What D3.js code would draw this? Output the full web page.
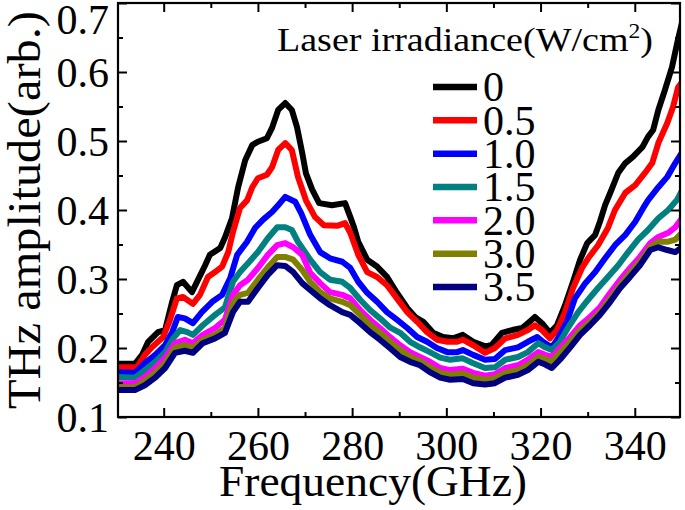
<!DOCTYPE html>
<html>
<head>
<meta charset="utf-8">
<script src="https://cdn.jsdelivr.net/npm/d3@7"></script>
<style>
  html, body { margin: 0; padding: 0; background: #fff; }
  svg { display: block; }
</style>
</head>
<body>
<svg id="chart" width="685" height="510" font-family="'Liberation Serif', 'Times New Roman', serif"></svg>
<script>
// ---- data (frequency GHz, amplitude arb.) ----
const irradiance = ["0", "0.5", "1.0", "1.5", "2.0", "3.0", "3.5"];
const colors = ["#000000", "#ff0000", "#0000ff", "#008080", "#ff00ff", "#808000", "#000080"];
const xTicks = [240, 260, 280, 300, 320, 340];
const xMinor = [250, 270, 290, 310, 330];
const yTicks = [0.1, 0.2, 0.3, 0.4, 0.5, 0.6, 0.7];
const yMinor = [0.15, 0.25, 0.35, 0.45, 0.55, 0.65];

const s0 = [[230.3,0.177],[233.9,0.177],[235.4,0.19],[236.7,0.209],[238.8,0.223],[240.3,0.226],[241.8,0.267],[242.8,0.291],[244.1,0.296],[246.0,0.281],[247.3,0.299],[248.8,0.32],[249.8,0.335],[252.0,0.345],[253.0,0.36],[254.5,0.388],[255.8,0.433],[257.3,0.472],[258.8,0.494],[260.0,0.499],[261.9,0.504],[263.0,0.519],[264.3,0.545],[265.8,0.555],[267.2,0.545],[268.3,0.52],[269.4,0.483],[270.2,0.453],[271.5,0.43],[273.0,0.41],[275.7,0.407],[278.5,0.41],[279.6,0.39],[280.4,0.375],[281.3,0.354],[283.2,0.328],[285.3,0.318],[287.4,0.303],[289.5,0.28],[291.7,0.258],[293.4,0.245],[295.1,0.238],[297.2,0.222],[299.3,0.216],[301.4,0.214],[303.5,0.219],[305.7,0.209],[308.4,0.202],[309.7,0.205],[311.8,0.222],[314.0,0.226],[316.1,0.229],[317.3,0.236],[318.8,0.245],[320.3,0.236],[322.0,0.222],[323.5,0.233],[325.2,0.262],[326.9,0.296],[328.4,0.328],[329.9,0.352],[331.6,0.364],[332.6,0.383],[333.7,0.407],[334.8,0.425],[336.5,0.454],[338.0,0.468],[339.6,0.477],[341.6,0.491],[342.8,0.506],[343.9,0.516],[345.0,0.545],[346.4,0.574],[347.9,0.607],[349.0,0.642],[350.0,0.671]];
const s05 = [[230.3,0.172],[234.3,0.172],[236.0,0.19],[237.5,0.201],[239.9,0.216],[241.3,0.24],[242.8,0.272],[244.1,0.274],[246.2,0.264],[247.7,0.277],[249.4,0.303],[250.9,0.31],[252.4,0.318],[253.7,0.339],[254.7,0.368],[256.2,0.403],[257.7,0.414],[258.8,0.433],[260.0,0.446],[261.9,0.451],[263.0,0.462],[264.3,0.487],[265.8,0.497],[267.2,0.487],[268.5,0.448],[270.2,0.414],[272.1,0.39],[274.0,0.378],[276.8,0.377],[278.5,0.381],[279.6,0.367],[281.3,0.335],[283.2,0.31],[285.3,0.303],[287.4,0.291],[289.5,0.272],[291.7,0.252],[293.8,0.238],[295.9,0.223],[298.0,0.212],[300.2,0.209],[302.3,0.209],[303.5,0.212],[305.7,0.204],[308.2,0.193],[310.3,0.2],[312.5,0.214],[315.2,0.219],[317.3,0.226],[318.8,0.233],[320.3,0.226],[322.0,0.214],[323.5,0.226],[325.2,0.252],[326.9,0.287],[328.8,0.316],[330.1,0.33],[332.2,0.349],[334.3,0.374],[335.8,0.4],[338.0,0.425],[340.1,0.436],[342.2,0.454],[343.7,0.468],[345.0,0.497],[346.9,0.526],[348.1,0.549],[349.2,0.578],[350.3,0.588]];
const s10 = [[230.3,0.165],[233.9,0.164],[236.0,0.178],[238.2,0.19],[240.3,0.204],[241.8,0.223],[243.0,0.245],[244.5,0.243],[246.2,0.236],[248.1,0.252],[250.3,0.267],[252.4,0.277],[254.1,0.301],[255.6,0.335],[257.7,0.354],[259.4,0.374],[261.1,0.386],[263.0,0.397],[264.3,0.407],[265.8,0.419],[267.9,0.412],[269.2,0.395],[271.1,0.364],[273.2,0.339],[275.3,0.33],[277.9,0.325],[279.6,0.316],[281.3,0.296],[283.2,0.28],[285.3,0.267],[287.4,0.252],[289.5,0.241],[291.7,0.229],[293.8,0.216],[295.9,0.209],[298.0,0.2],[300.2,0.194],[302.3,0.194],[303.5,0.197],[305.7,0.19],[308.2,0.183],[310.3,0.184],[312.5,0.197],[315.2,0.201],[317.3,0.209],[319.3,0.216],[320.5,0.209],[322.4,0.201],[323.7,0.214],[325.6,0.238],[327.3,0.272],[329.5,0.294],[331.6,0.31],[333.7,0.33],[335.8,0.349],[338.0,0.364],[340.1,0.383],[341.8,0.403],[342.8,0.414],[345.0,0.433],[346.9,0.448],[348.6,0.468],[350.0,0.483]];
const s15 = [[230.3,0.158],[233.9,0.157],[236.0,0.168],[238.2,0.18],[240.3,0.194],[242.0,0.214],[243.5,0.226],[245.0,0.223],[246.2,0.219],[248.3,0.233],[250.9,0.248],[253.0,0.259],[254.7,0.296],[256.2,0.31],[257.9,0.323],[260.0,0.339],[262.1,0.359],[264.1,0.375],[265.8,0.375],[267.2,0.371],[268.5,0.354],[271.1,0.328],[273.2,0.31],[275.3,0.299],[277.9,0.296],[279.6,0.287],[281.7,0.27],[283.8,0.255],[285.9,0.243],[288.0,0.23],[290.2,0.222],[292.3,0.209],[294.4,0.201],[296.5,0.194],[298.7,0.186],[300.8,0.183],[303.5,0.185],[305.7,0.178],[308.2,0.171],[310.3,0.172],[312.5,0.183],[315.2,0.187],[317.3,0.194],[319.5,0.207],[321.0,0.201],[322.4,0.197],[324.1,0.209],[325.8,0.229],[328.0,0.252],[330.1,0.27],[332.2,0.287],[334.3,0.303],[336.5,0.32],[338.6,0.339],[340.7,0.357],[342.8,0.371],[345.0,0.388],[347.1,0.4],[349.0,0.415],[350.0,0.428]];
const s20 = [[230.3,0.149],[233.9,0.149],[236.0,0.158],[238.2,0.171],[240.3,0.186],[242.4,0.207],[244.5,0.212],[246.2,0.207],[248.3,0.219],[250.9,0.229],[253.0,0.241],[254.7,0.277],[256.2,0.291],[257.9,0.299],[260.0,0.316],[262.1,0.335],[264.1,0.349],[265.8,0.352],[267.5,0.346],[269.4,0.335],[271.1,0.309],[273.2,0.294],[275.3,0.281],[277.9,0.277],[279.6,0.272],[281.7,0.255],[283.8,0.241],[285.9,0.229],[288.0,0.216],[290.2,0.204],[292.3,0.194],[294.4,0.187],[296.5,0.18],[298.7,0.171],[300.8,0.168],[303.5,0.17],[305.7,0.164],[308.2,0.16],[310.3,0.162],[312.5,0.171],[315.2,0.175],[317.3,0.183],[319.5,0.194],[321.0,0.19],[322.4,0.187],[324.1,0.2],[326.3,0.216],[328.4,0.233],[330.5,0.245],[332.6,0.259],[334.8,0.28],[336.9,0.299],[339.0,0.316],[341.1,0.332],[343.3,0.352],[345.0,0.361],[347.1,0.367],[348.6,0.375],[350.0,0.388]];
const s30 = [[230.3,0.143],[233.9,0.143],[236.0,0.152],[238.2,0.164],[240.3,0.178],[242.4,0.2],[244.5,0.204],[246.2,0.2],[248.3,0.212],[250.9,0.219],[253.0,0.229],[254.7,0.265],[256.2,0.277],[257.9,0.28],[260.0,0.299],[262.1,0.317],[264.1,0.332],[265.8,0.332],[267.5,0.328],[269.4,0.313],[271.1,0.296],[273.2,0.281],[275.3,0.272],[277.9,0.267],[279.6,0.262],[281.7,0.248],[283.8,0.233],[285.9,0.222],[288.0,0.209],[290.2,0.197],[292.3,0.187],[294.4,0.181],[296.5,0.172],[298.7,0.164],[300.8,0.161],[303.5,0.163],[305.7,0.157],[308.2,0.154],[310.3,0.156],[312.5,0.164],[315.2,0.168],[317.3,0.175],[319.5,0.187],[321.0,0.184],[322.4,0.18],[324.1,0.193],[326.3,0.209],[328.4,0.226],[330.5,0.238],[332.6,0.252],[334.8,0.272],[336.9,0.291],[339.0,0.309],[341.1,0.325],[343.3,0.346],[345.0,0.354],[347.1,0.354],[348.6,0.357],[350.0,0.367]];
const s35 = [[230.3,0.139],[233.9,0.139],[236.0,0.146],[238.2,0.157],[240.3,0.171],[242.4,0.193],[244.5,0.196],[246.2,0.193],[248.3,0.207],[250.9,0.214],[253.0,0.222],[254.7,0.252],[256.2,0.267],[257.9,0.267],[260.0,0.287],[262.1,0.306],[264.1,0.32],[265.8,0.319],[267.5,0.31],[269.4,0.294],[271.1,0.284],[273.2,0.272],[275.3,0.262],[277.9,0.252],[279.6,0.248],[281.7,0.236],[283.8,0.223],[285.9,0.212],[288.0,0.2],[290.2,0.187],[292.3,0.18],[294.4,0.175],[296.5,0.165],[298.7,0.157],[300.8,0.154],[303.5,0.155],[305.7,0.149],[308.2,0.147],[310.3,0.149],[312.5,0.157],[315.2,0.161],[317.3,0.168],[319.5,0.18],[321.0,0.176],[322.4,0.171],[324.1,0.183],[326.3,0.201],[328.4,0.219],[330.5,0.233],[332.6,0.248],[334.8,0.267],[336.9,0.287],[339.0,0.303],[341.1,0.32],[343.3,0.342],[345.0,0.346],[346.9,0.342],[348.6,0.339],[350.0,0.346]];
const seriesData = [s0, s05, s10, s15, s20, s30, s35];

// ---- layout ----
const FONT = "'Liberation Serif', 'Times New Roman', serif";
const svg = d3.select("#chart");
const L = 118, R = 680, T = 3, B = 417;
const x = d3.scaleLinear().domain([230.3, 349.6]).range([L, R]);
const y = d3.scaleLinear().domain([0.1, 0.7]).range([B, T]);

svg.append("defs").append("clipPath").attr("id", "plotclip")
  .append("rect").attr("x", L).attr("y", T).attr("width", R - L).attr("height", B - T);

// curves
const line = d3.line().x(d => x(d[0])).y(d => y(d[1]));
svg.append("g").attr("clip-path", "url(#plotclip)")
  .selectAll("path").data(seriesData).join("path")
  .attr("d", line)
  .attr("fill", "none")
  .attr("stroke", (d, i) => colors[i])
  .attr("stroke-width", 6)
  .attr("stroke-linejoin", "round")
  .attr("stroke-linecap", "round");

// axes
const fontTick = 42;
function styleAxis(g) {
  g.attr("font-family", FONT);
  g.select(".domain").remove();
  g.selectAll(".tick line").attr("stroke", "#000").attr("stroke-width", 2);
}
function tickOnly(g) {
  styleAxis(g);
  g.selectAll(".tick text").remove();
}
svg.append("g").attr("transform", `translate(0,${B})`)
  .call(d3.axisBottom(x).tickValues(xTicks).tickSize(-9).tickPadding(14).tickFormat(d3.format("d")))
  .call(styleAxis)
  .call(g => g.selectAll("text").attr("font-size", fontTick).attr("font-family", FONT).attr("dy", "0.7em"));
svg.append("g").attr("transform", `translate(0,${B})`)
  .call(d3.axisBottom(x).tickValues(xMinor).tickSize(-5)).call(tickOnly);
svg.append("g").attr("transform", `translate(0,${T})`)
  .call(d3.axisTop(x).tickValues(xTicks).tickSize(-9)).call(tickOnly);
svg.append("g").attr("transform", `translate(0,${T})`)
  .call(d3.axisTop(x).tickValues(xMinor).tickSize(-5)).call(tickOnly);

svg.append("g").attr("transform", `translate(${L},0)`)
  .call(d3.axisLeft(y).tickValues(yTicks).tickSize(-9).tickPadding(9).tickFormat(d3.format(".1f")))
  .call(styleAxis)
  .call(g => g.selectAll("text").attr("font-size", fontTick).attr("font-family", FONT).attr("dy", "0.34em"))
  .call(g => g.selectAll(".tick").filter(d => d === 0.7).select("text").attr("y", 16));
svg.append("g").attr("transform", `translate(${L},0)`)
  .call(d3.axisLeft(y).tickValues(yMinor).tickSize(-5)).call(tickOnly);
svg.append("g").attr("transform", `translate(${R},0)`)
  .call(d3.axisRight(y).tickValues(yTicks).tickSize(-9)).call(tickOnly);
svg.append("g").attr("transform", `translate(${R},0)`)
  .call(d3.axisRight(y).tickValues(yMinor).tickSize(-5)).call(tickOnly);

// frame
svg.append("rect").attr("x", L).attr("y", T).attr("width", R - L).attr("height", B - T)
  .attr("fill", "none").attr("stroke", "#000").attr("stroke-width", 2.2);

// axis titles
svg.append("text").attr("x", 373).attr("y", 496).attr("text-anchor", "middle")
  .attr("font-family", FONT).attr("font-size", 45).attr("textLength", 308).attr("lengthAdjust", "spacingAndGlyphs")
  .text("Frequency(GHz)");
svg.append("text").attr("transform", "translate(40,210) rotate(-90)").attr("text-anchor", "middle")
  .attr("font-family", FONT).attr("font-size", 46).attr("textLength", 398).attr("lengthAdjust", "spacingAndGlyphs")
  .text("THz amplitude(arb.)");

// legend
const lg = svg.append("g").attr("font-family", FONT);
const title = lg.append("text").attr("x", 277).attr("y", 51).attr("font-size", 34)
  .attr("textLength", 376).attr("lengthAdjust", "spacingAndGlyphs");
title.append("tspan").text("Laser irradiance(W/cm");
title.append("tspan").attr("font-size", 21).attr("dy", -13).text("2");
title.append("tspan").attr("dy", 13).text(")");
const rowY = d3.scaleLinear().domain([0, 6]).range([87, 287]);
irradiance.forEach((lab, i) => {
  lg.append("line").attr("x1", 433).attr("x2", 477).attr("y1", rowY(i)).attr("y2", rowY(i))
    .attr("stroke", colors[i]).attr("stroke-width", 6.5);
  lg.append("text").attr("x", 483).attr("y", rowY(i)).attr("dy", "0.34em")
    .attr("font-size", 42).text(lab);
});
</script>
</body>
</html>
